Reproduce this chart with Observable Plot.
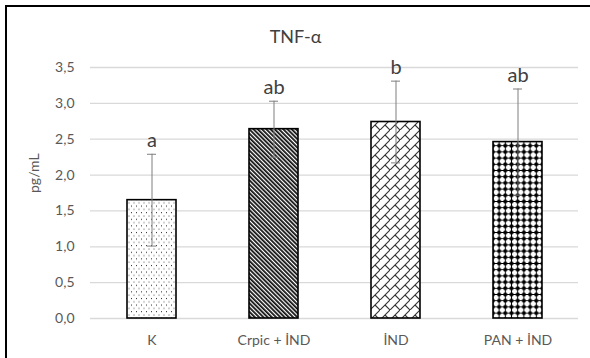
<!DOCTYPE html>
<html>
<head>
<meta charset="utf-8">
<script src="https://cdn.jsdelivr.net/npm/d3@7"></script>
<script src="https://cdn.jsdelivr.net/npm/@observablehq/plot@0.6"></script>
<style>
  html, body { margin: 0; padding: 0; background: #fff; }
  #wrap { position: relative; width: 590px; height: 358px; overflow: hidden; }
  #frame { position: absolute; left: 5px; top: 5px; width: 700px; height: 500px;
           border-left: 2px solid #000; border-top: 2px solid #000; pointer-events: none; }
</style>
</head>
<body>
<div id="wrap"><div id="frame"></div></div>
<script>
const title = "TNF-α";
const yLabel = "pg/mL";
const categories = ["K", "Crpic + İND", "İND", "PAN + İND"];
const means = [1.65, 2.64, 2.74, 2.46];
const sds = [0.64, 0.39, 0.57, 0.74];
const letters = ["a", "ab", "b", "ab"];
const patternIds = ["pat-dots", "pat-stripes", "pat-brick", "pat-spheres"];
const yTicks = [0, 0.5, 1, 1.5, 2, 2.5, 3, 3.5];

const data = categories.map((c, i) => ({
  cat: c, mean: means[i], sd: sds[i], letter: letters[i], pat: patternIds[i]
}));

const font = "Lato, 'Open Sans', sans-serif";
const ink = "#595959";

const chart = Plot.plot({
  width: 590,
  height: 358,
  marginLeft: 90,
  marginRight: 12,
  marginTop: 67,
  marginBottom: 40,
  style: { fontFamily: font, fontSize: "14px", color: ink, background: "transparent" },
  x: { domain: categories, paddingInner: 0.6, paddingOuter: 0.3, label: null },
  y: { domain: [0, 3.5], label: null },
  marks: [
    Plot.gridY(yTicks, { stroke: "#d9d9d9", strokeOpacity: 1, strokeWidth: 1.3 }),
    Plot.axisY(yTicks, {
      tickSize: 0, tickPadding: 16, fontSize: 14, fill: ink, label: null,
      tickFormat: d => d.toFixed(1).replace(".", ",")
    }),
    Plot.axisX({ tickSize: 0, tickPadding: 17, fontSize: 14, fill: ink, label: null }),
    ...data.map(d => Plot.barY([d], {
      x: "cat", y: "mean", fill: `url(#${d.pat})`, stroke: "#000", strokeWidth: 1.6
    })),
    Plot.ruleX(data, {
      x: "cat", y1: d => d.mean - d.sd, y2: d => d.mean + d.sd,
      stroke: "#7f7f7f", strokeWidth: 1
    }),
    Plot.tickY(data, { x: "cat", y: d => d.mean + d.sd, stroke: "#7f7f7f", insetLeft: 20, insetRight: 20 }),
    Plot.tickY(data, { x: "cat", y: d => d.mean - d.sd, stroke: "#7f7f7f", insetLeft: 20, insetRight: 20 }),
    Plot.text(data, {
      x: "cat", y: d => d.mean + d.sd, text: "letter", dy: -7, lineAnchor: "bottom",
      fontSize: 20, fill: "#404040"
    }),
    Plot.text([title], { frameAnchor: "top", dx: -39, dy: -25, lineAnchor: "bottom", fontSize: 18, fill: "#404040" }),
    Plot.text([yLabel], { frameAnchor: "left", dx: -56, rotate: -90, fontSize: 14, fill: ink })
  ]
});

// Pattern definitions for bar fills
const svg = d3.select(chart);
const defs = svg.insert("defs", ":first-child");

// dotted
let p = defs.append("pattern").attr("id", "pat-dots").attr("patternUnits", "userSpaceOnUse")
  .attr("width", 5).attr("height", 6.6);
p.append("rect").attr("width", 5).attr("height", 6.6).attr("fill", "#fff");
p.append("rect").attr("x", 1).attr("y", 1).attr("width", 1).attr("height", 1).attr("fill", "#222");
p.append("rect").attr("x", 3.5).attr("y", 4.3).attr("width", 1).attr("height", 1).attr("fill", "#555");

// dark downward diagonal stripes
p = defs.append("pattern").attr("id", "pat-stripes").attr("patternUnits", "userSpaceOnUse")
  .attr("width", 3).attr("height", 3).attr("patternTransform", "rotate(-45)");
p.append("rect").attr("width", 3).attr("height", 3).attr("fill", "#fff");
p.append("rect").attr("width", 1.8).attr("height", 3).attr("fill", "#111");

// diagonal brick
p = defs.append("pattern").attr("id", "pat-brick").attr("patternUnits", "userSpaceOnUse")
  .attr("width", 10).attr("height", 10);
p.append("rect").attr("width", 10).attr("height", 10).attr("fill", "#fff");
p.append("path").attr("d", "M-1,11 L11,-1 M5,5 L10,10")
  .attr("stroke", "#333").attr("stroke-width", 1.1).attr("fill", "none");

// spheres / diamonds
p = defs.append("pattern").attr("id", "pat-spheres").attr("patternUnits", "userSpaceOnUse")
  .attr("width", 6.2).attr("height", 6.2);
p.append("rect").attr("width", 6.2).attr("height", 6.2).attr("fill", "#fff");
p.append("circle").attr("cx", 3.1).attr("cy", 3.1).attr("r", 2.1).attr("fill", "#000");
p.append("path").attr("d", "M3.1,0 V6.2 M0,3.1 H6.2").attr("stroke", "#000").attr("stroke-width", 1);

chart.style.position = "absolute";
chart.style.left = "0";
chart.style.top = "0";
document.getElementById("wrap").insertBefore(chart, document.getElementById("frame"));
</script>
</body>
</html>
